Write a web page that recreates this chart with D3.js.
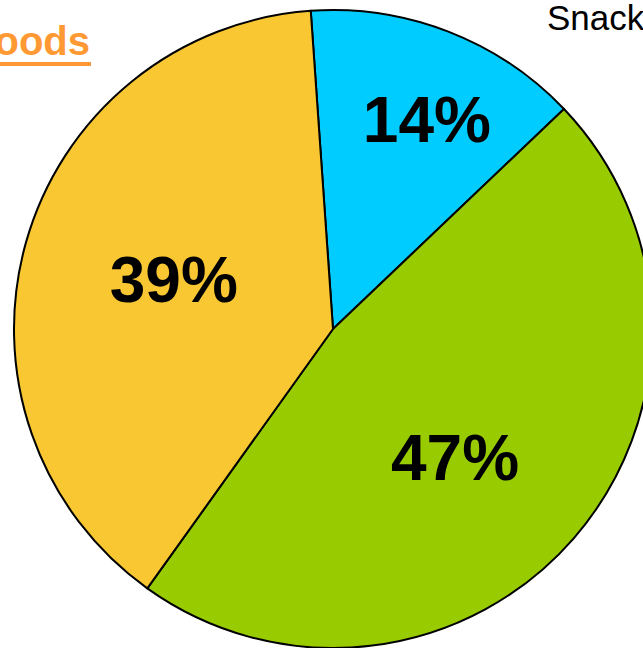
<!DOCTYPE html>
<html>
<head>
<meta charset="utf-8">
<script src="https://cdn.jsdelivr.net/npm/d3@7"></script>
<style>
  html, body { margin: 0; padding: 0; background: #fff; }
  svg { display: block; }
</style>
</head>
<body>
<svg id="chart" width="643" height="648"></svg>
<script>
// Share of items per group (percent), drawn clockwise from just left of 12 o'clock
const labels = ["14%", "47%", "39%"];
const values = [14, 47, 39];
const colors = ["#00CCFF", "#99CC00", "#F8C732"];

// Label placement: angle nudge (degrees) and distance from centre, per slice
const labelAngleNudge = [2.9, 5.4, 1.7];
const labelRadius = [230, 177, 167];

const svg = d3.select("#chart");
const cx = 333, cy = 329, r = 319;
const start = -4 * Math.PI / 180;

const pie = d3.pie().sort(null).value(d => d)
  .startAngle(start).endAngle(start + 2 * Math.PI);
const arcs = pie(values);
const arc = d3.arc().innerRadius(0).outerRadius(r);

const g = svg.append("g").attr("transform", `translate(${cx},${cy})`);

g.selectAll("path.slice")
  .data(arcs)
  .join("path")
  .attr("class", "slice")
  .attr("d", arc)
  .attr("fill", (d, i) => colors[i])
  .attr("stroke", "#000")
  .attr("stroke-width", 2)
  .attr("stroke-linejoin", "round");

const fontSize = 64;
g.selectAll("text.pct")
  .data(arcs)
  .join("text")
  .attr("class", "pct")
  .attr("text-anchor", "middle")
  .attr("font-family", "Liberation Sans, Arial, sans-serif")
  .attr("font-weight", "bold")
  .attr("font-size", fontSize)
  .attr("fill", "#000")
  .attr("x", (d, i) => {
    const a = (d.startAngle + d.endAngle) / 2 + labelAngleNudge[i] * Math.PI / 180;
    return Math.sin(a) * labelRadius[i];
  })
  .attr("y", (d, i) => {
    const a = (d.startAngle + d.endAngle) / 2 + labelAngleNudge[i] * Math.PI / 180;
    return -Math.cos(a) * labelRadius[i] + 0.358 * fontSize;
  })
  .text((d, i) => labels[i]);

// Heading at the top-left, underlined
svg.append("text")
  .attr("x", 90)
  .attr("y", 55)
  .attr("text-anchor", "end")
  .attr("font-family", "Liberation Sans, Arial, sans-serif")
  .attr("font-weight", "bold")
  .attr("font-size", 40)
  .attr("fill", "#FF9933")
  .text("Foods");
svg.append("rect")
  .attr("x", 0).attr("y", 62)
  .attr("width", 91).attr("height", 4)
  .attr("fill", "#FF9933");

// Category caption at the top-right
svg.append("text")
  .attr("x", 547)
  .attr("y", 30)
  .attr("font-family", "Liberation Sans, Arial, sans-serif")
  .attr("font-size", 35)
  .attr("fill", "#000")
  .text("Snacks");
</script>
</body>
</html>
